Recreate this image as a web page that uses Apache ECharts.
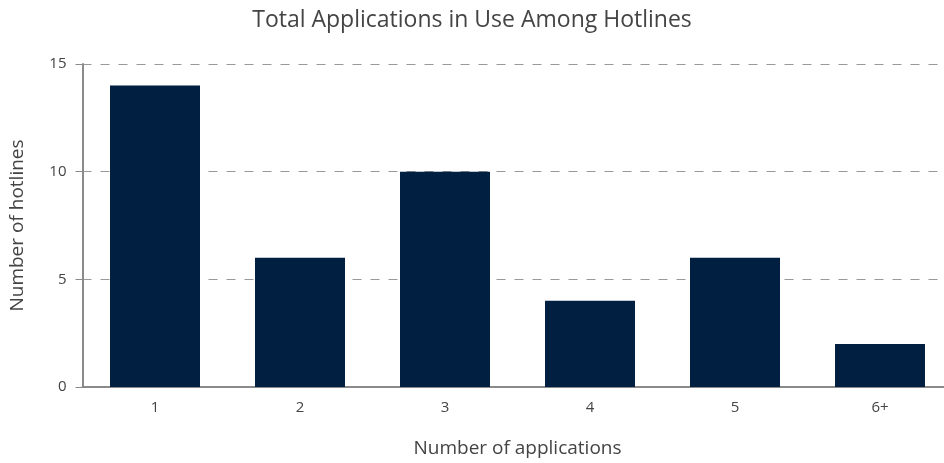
<!DOCTYPE html>
<html>
<head>
<meta charset="utf-8">
<script src="https://cdn.jsdelivr.net/npm/echarts@6/dist/echarts.min.js"></script>
<style>
html,body{margin:0;padding:0;background:#fff;}
#chart{width:944px;height:463px;}
</style>
</head>
<body>
<div id="chart"></div>
<script>
var categories = ['1', '2', '3', '4', '5', '6+'];
var hotlines = [14, 6, 10, 4, 6, 2];
var yTicks = [0, 5, 10, 15];

var chart = echarts.init(document.getElementById('chart'), null, {renderer: 'canvas'});
var fontFam = '"Open Sans", "Noto Sans", sans-serif';
chart.setOption({
  animation: false,
  backgroundColor: '#ffffff',
  title: {
    text: 'Total Applications in Use Among Hotlines',
    left: 'center',
    top: 4,
    textStyle: {fontFamily: fontFam, fontSize: 23, fontWeight: 'normal', color: '#444444'}
  },
  grid: {left: 82.5, width: 870, top: 64, bottom: 76, outerBoundsMode: 'none', containLabel: false},
  xAxis: {
    type: 'category',
    data: categories,
    name: 'Number of applications',
    nameLocation: 'middle',
    nameGap: 52,
    nameTextStyle: {fontFamily: fontFam, fontSize: 19, color: '#444444'},
    axisLine: {lineStyle: {color: '#8a8a8a', width: 2}},
    axisTick: {show: false},
    axisLabel: {fontFamily: fontFam, fontSize: 15, color: '#444444', margin: 13}
  },
  yAxis: {
    type: 'value',
    min: yTicks[0],
    max: yTicks[yTicks.length - 1],
    interval: yTicks[1] - yTicks[0],
    name: 'Number of hotlines',
    nameLocation: 'middle',
    nameGap: 55,
    nameTextStyle: {fontFamily: fontFam, fontSize: 19, color: '#444444'},
    axisLine: {show: true, lineStyle: {color: '#8a8a8a', width: 2}},
    axisTick: {show: true, length: 7, lineStyle: {color: '#8a8a8a', width: 1}},
    axisLabel: {fontFamily: fontFam, fontSize: 15, color: '#444444', margin: 16},
    splitLine: {show: true, lineStyle: {color: '#999999', type: [9, 9], width: 1}}
  },
  series: [{
    type: 'bar',
    data: hotlines,
    barWidth: 90,
    itemStyle: {color: '#011f41'}
  }]
});
</script>
</body>
</html>
